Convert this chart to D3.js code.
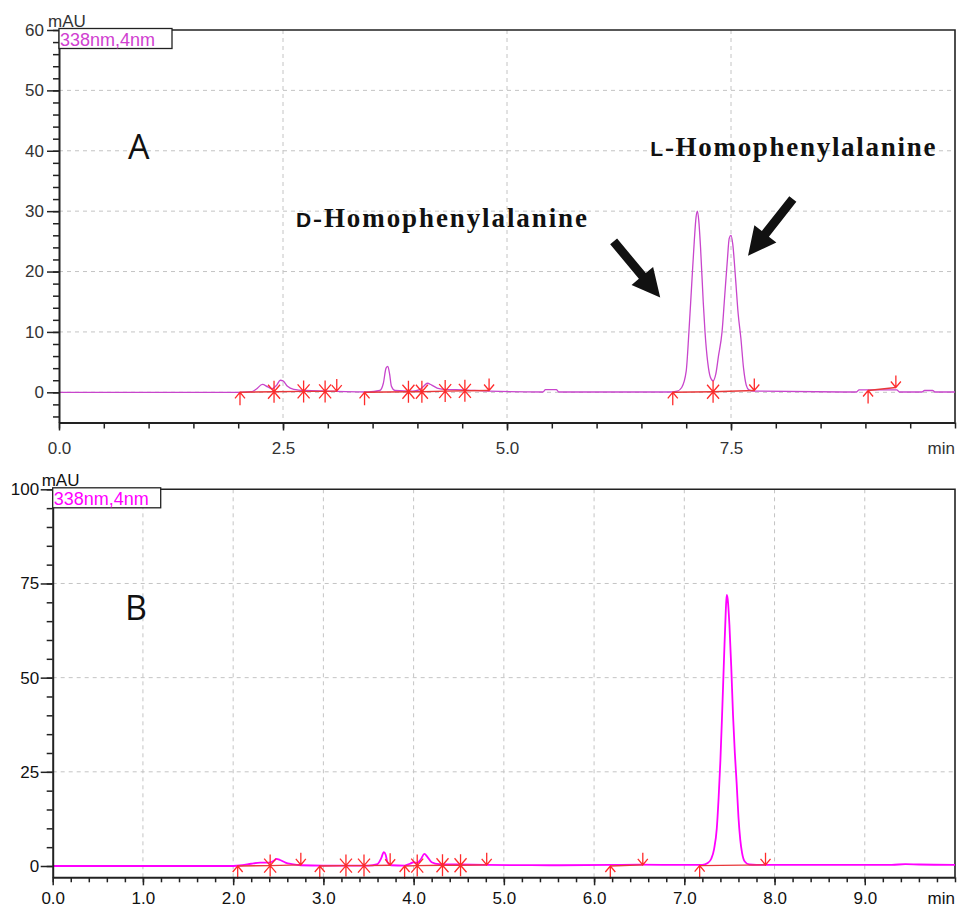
<!DOCTYPE html>
<html>
<head>
<meta charset="utf-8">
<script src="https://cdn.jsdelivr.net/npm/d3@7"></script>
<style>
  body { margin: 0; background: #fff; }
  svg { display: block; }
</style>
</head>
<body>
<div id="chart"></div>
<script>
// --- data (time in min, signal in mAU) ---
const traceA = [
  [0,0],[2.0,0],[2.15,0.1],[2.20,0.5],[2.27,1.3],[2.33,0.9],[2.38,0.6],[2.43,1.2],[2.47,2.0],[2.50,1.9],
  [2.55,1.0],[2.62,0.5],[2.75,0.3],[3.0,0.2],[3.2,0.1],[3.45,0.05],[3.58,0.3],[3.62,1.5],[3.65,4.0],[3.67,4.3],
  [3.69,3.0],[3.71,1.0],[3.75,0.3],[3.95,0.2],[4.02,0.4],[4.07,1.0],[4.11,1.5],[4.16,1.2],[4.22,0.7],[4.30,0.5],
  [4.50,0.4],[4.80,0.2],[5.40,0.05],[5.43,0.45],[5.55,0.45],[5.58,0.05],[6.80,0.05],[6.90,0.2],[6.95,0.8],[7.00,3.5],
  [7.03,9.9],[7.06,17.5],[7.09,25],[7.11,29],[7.125,30],[7.14,28.5],[7.16,24],[7.19,15],[7.21,10],[7.24,5],
  [7.27,2.5],[7.30,1.9],[7.33,3],[7.36,6],[7.40,10],[7.43,16],[7.46,22],[7.48,25.5],[7.50,26],[7.52,24.5],
  [7.55,19],[7.58,13],[7.61,9],[7.64,4],[7.67,1.2],[7.70,0.4],[7.75,0.2],[8.90,0.05],[8.93,0.4],[9.35,0.4],
  [9.38,0.05],[9.63,0.05],[9.66,0.3],[9.75,0.3],[9.78,0.05],[10,0.05]
];
const traceB = [
  [0,0],[2.0,0],[2.10,0.2],[2.20,0.6],[2.30,0.9],[2.40,0.9],[2.45,1.4],[2.48,1.9],[2.52,1.6],[2.58,0.9],
  [2.65,0.5],[2.75,0.2],[3.0,0.1],[3.5,0.1],[3.60,0.5],[3.64,2.0],[3.67,3.7],[3.69,3.0],[3.71,1.0],[3.75,0.2],
  [3.90,0.1],[3.96,0.6],[4.00,1.0],[4.04,0.8],[4.08,1.8],[4.12,3.2],[4.15,2.5],[4.20,1.0],[4.28,0.5],[4.50,0.4],
  [4.80,0.3],[5.5,0.2],[6.2,0.3],[6.5,0.35],[7.0,0.3],[7.20,0.3],[7.26,0.8],[7.30,2.0],[7.33,4.5],[7.36,10],
  [7.38,18],[7.40,28],[7.42,41],[7.44,55],[7.46,68],[7.47,72],[7.48,71],[7.50,64],[7.52,53],[7.54,40],
  [7.56,30],[7.58,22],[7.60,13],[7.62,7],[7.64,3.5],[7.67,1.2],[7.72,0.4],[7.80,0.3],[9.0,0.3],[9.3,0.3],
  [9.45,0.5],[9.6,0.4],[10,0.3]
];

// integration marks: peak start (up arrow), peak end (down arrow), split (asterisk)
const peakStartA = [[2.02,0],[3.41,0],[6.85,0],[9.03,0.3]];
const peakEndA   = [[3.10,0.2],[4.80,0.3],[7.76,0.3],[9.34,0.8]];
const peakSplitA = [[2.40,0.1],[2.73,0.15],[2.97,0.15],[3.90,0.1],[4.05,0.1],[4.31,0.2],[4.53,0.25],[7.30,0.1]];

const peakStartB = [[2.05,0],[2.96,0],[3.90,0],[6.18,0],[7.17,0.1]];
const peakEndB   = [[2.75,0.3],[3.74,0.2],[4.81,0.3],[6.54,0.3],[7.90,0.3]];
const peakSplitB = [[2.41,0.1],[3.25,0.1],[3.45,0.1],[4.04,0.1],[4.32,0.2],[4.52,0.2]];

// tick labels
const xLabelsA = [0, 2.5, 5, 7.5];
const yLabelsA = [0, 10, 20, 30, 40, 50, 60];
const xLabelsB = [0, 1, 2, 3, 4, 5, 6, 7, 8, 9];
const yLabelsB = [0, 25, 50, 75, 100];

const W = 960, H = 908;
const svg = d3.select("#chart").append("svg").attr("width", W).attr("height", H);

class Chromatogram {
  constructor(config) {
    this.config = config;
    this.init();
  }

  init() {
    const c = this.config;
    this.g = svg.append("g");
    this.x = d3.scaleLinear().domain([0, 10]).range([c.left, c.right]);
    this.y = d3.scaleLinear().domain(c.yDomain).range([c.bottom, c.top]);
  }

  render() {
    const c = this.config, g = this.g, x = this.x, y = this.y;
    const font = "'Liberation Sans', Arial, sans-serif";

    // grid
    g.append("g").selectAll("line").data(c.xGrid).join("line")
      .attr("x1", d => x(d)).attr("x2", d => x(d))
      .attr("y1", c.top).attr("y2", c.bottom)
      .attr("stroke", "#c4c4c4").attr("stroke-width", 1).attr("stroke-dasharray", "4,4");
    g.append("g").selectAll("line").data(c.yGrid).join("line")
      .attr("x1", c.left).attr("x2", c.right)
      .attr("y1", d => y(d)).attr("y2", d => y(d))
      .attr("stroke", "#c4c4c4").attr("stroke-width", 1).attr("stroke-dasharray", "4,4");

    // frame top / right
    g.append("path")
      .attr("d", `M${c.left},${c.top}H${c.right}V${c.bottom}`)
      .attr("fill", "none").attr("stroke", "#222").attr("stroke-width", 1.6);

    // trace
    const line = d3.line().x(d => x(d[0])).y(d => y(d[1])).curve(d3.curveMonotoneX);
    g.append("path").datum(c.trace)
      .attr("d", line)
      .attr("fill", "none").attr("stroke", c.traceColor).attr("stroke-width", c.traceWidth);

    // integration baselines (start -> splits -> end)
    const segs = c.starts.map(s => {
      const e = c.ends.find(d => d[0] > s[0]);
      const mids = c.splits.filter(d => d[0] > s[0] && d[0] < e[0]);
      return [s, ...mids, e];
    });
    g.append("g").selectAll("path").data(segs).join("path")
      .attr("d", d3.line().x(d => x(d[0])).y(d => y(d[1])))
      .attr("fill", "none").attr("stroke", "#e8383a").attr("stroke-width", 1.4);

    const red = "#ff2a2a";
    g.append("g").selectAll("path").data(c.starts).join("path")
      .attr("d", d => { const px = x(d[0]), py = y(d[1]);
        return `M${px},${py}V${py + 13}M${px - 5},${py + 6}L${px},${py}L${px + 5},${py + 6}`; })
      .attr("fill", "none").attr("stroke", red).attr("stroke-width", 1.3);
    g.append("g").selectAll("path").data(c.ends).join("path")
      .attr("d", d => { const px = x(d[0]), py = y(d[1]);
        return `M${px},${py}V${py - 12}M${px - 5},${py - 6}L${px},${py}L${px + 5},${py - 6}`; })
      .attr("fill", "none").attr("stroke", red).attr("stroke-width", 1.3);
    g.append("g").selectAll("path").data(c.splits).join("path")
      .attr("d", d => { const px = x(d[0]), py = y(d[1]);
        return `M${px},${py - 11}V${py + 11}M${px - 6},${py - 7}L${px + 6},${py + 7}M${px + 6},${py - 7}L${px - 6},${py + 7}`; })
      .attr("fill", "none").attr("stroke", red).attr("stroke-width", 1.3);

    // axes
    const axisStyle = sel => {
      sel.selectAll("line").attr("stroke", "#222").attr("stroke-width", 1.5);
      sel.select(".domain").attr("stroke", "#222").attr("stroke-width", 2);
      sel.selectAll("text").attr("font-family", font).attr("font-size", c.fontSize).attr("fill", c.textColor);
    };
    g.append("g").attr("transform", `translate(0,${c.bottom})`)
      .call(d3.axisBottom(x).tickValues(c.xMinor).tickSize(c.xMinorLen).tickSizeOuter(0).tickFormat(""))
      .call(axisStyle);
    g.append("g").attr("transform", `translate(0,${c.bottom})`)
      .call(d3.axisBottom(x).tickValues(c.xLabels).tickSize(c.xMajorLen).tickPadding(c.xPad).tickFormat(d3.format(".1f")))
      .call(axisStyle).call(s => s.select(".domain").remove());
    g.append("g").attr("transform", `translate(${c.left},0)`)
      .call(d3.axisLeft(y).tickValues(c.yMinor).tickSize(6).tickSizeOuter(0).tickFormat(""))
      .call(axisStyle);
    g.append("g").attr("transform", `translate(${c.left},0)`)
      .call(d3.axisLeft(y).tickValues(c.yLabels).tickSize(12).tickPadding(c.yPad).tickFormat(d3.format("d")))
      .call(axisStyle).call(s => s.select(".domain").remove());

    g.append("text").attr("x", c.right).attr("y", c.bottom + c.xPad + c.xMajorLen + 12)
      .attr("text-anchor", "end").attr("font-family", font).attr("font-size", c.fontSize)
      .attr("fill", c.textColor).text("min");
    g.append("text").attr("x", c.left - 11).attr("y", c.top - 3)
      .attr("font-family", font).attr("font-size", c.fontSize).attr("fill", c.textColor).text("mAU");

    // wavelength box
    g.append("rect").attr("x", c.left).attr("y", c.top - 1.5)
      .attr("width", c.legendW).attr("height", 20)
      .attr("fill", "#fff").attr("stroke", "#222").attr("stroke-width", 1.3);
    g.append("text").attr("x", c.left + 1).attr("y", c.top + 16)
      .attr("font-family", font).attr("font-size", 18).attr("fill", c.legendColor).text("338nm,4nm");

    // panel letter
    g.append("text").attr("x", x(c.letterAt[0])).attr("y", y(c.letterAt[1]))
      .attr("font-family", "'Open Sans', 'Liberation Sans', sans-serif").attr("font-size", 34)
      .attr("fill", "#111").text(c.letter);
  }

  annotate(names, arrows) {
    const x = this.x, y = this.y, g = this.g;
    names.forEach(n => {
      const t = g.append("text").attr("x", x(n.at[0])).attr("y", y(n.at[1]))
        .attr("font-weight", "bold").attr("fill", "#111")
        .attr("textLength", n.width).attr("lengthAdjust", "spacing");
      t.append("tspan").attr("font-family", "'Liberation Sans', Arial, sans-serif")
        .attr("font-size", 21).text(n.prefix);
      t.append("tspan").attr("font-family", "'Liberation Serif', 'Times New Roman', serif")
        .attr("font-size", 27).text(n.rest);
    });
    arrows.forEach(a => {
      const x0 = x(a.from[0]), y0 = y(a.from[1]), x1 = x(a.to[0]), y1 = y(a.to[1]);
      const len = Math.hypot(x1 - x0, y1 - y0), ux = (x1 - x0) / len, uy = (y1 - y0) / len;
      const px = -uy, py = ux, sw = 4.5, hl = 28, hw = 14;
      const bx = x1 - ux * hl, by = y1 - uy * hl;
      const pts = [
        [x0 + px * sw, y0 + py * sw], [bx + px * sw, by + py * sw], [bx + px * hw, by + py * hw],
        [x1, y1],
        [bx - px * hw, by - py * hw], [bx - px * sw, by - py * sw], [x0 - px * sw, y0 - py * sw]
      ];
      g.append("polygon").attr("points", pts.map(p => p.join(",")).join(" ")).attr("fill", "#111");
    });
  }
}

const chartA = new Chromatogram({
  left: 59, right: 955, top: 30, bottom: 422.5, yDomain: [-5, 60],
  trace: traceA, traceColor: "#c845cc", traceWidth: 1.3,
  starts: peakStartA, ends: peakEndA, splits: peakSplitA,
  xLabels: xLabelsA, xMinor: d3.range(0, 10.01, 0.5), xMinorLen: 6, xMajorLen: 8, xPad: 11,
  yLabels: yLabelsA, yMinor: d3.range(-4, 60.1, 2), yPad: 3,
  xGrid: [2.5, 5, 7.5], yGrid: [0, 10, 20, 30, 40, 50],
  fontSize: 17, textColor: "#333", legendW: 113, legendColor: "#d040d0",
  letter: "A", letterAt: [0.77, 38.6]
});
chartA.render();
chartA.annotate(
  [{ prefix: "D", rest: "-Homophenylalanine", at: [2.645, 27.3], width: 291 },
   { prefix: "L", rest: "-Homophenylalanine", at: [6.60, 39.2], width: 285 }],
  [{ from: [6.19, 25.0], to: [6.71, 15.7] },
   { from: [8.19, 32.0], to: [7.69, 22.6] }]
);

const chartB = new Chromatogram({
  left: 52.7, right: 955, top: 489.3, bottom: 877.3, yDomain: [-3, 100],
  trace: traceB, traceColor: "#ff00ff", traceWidth: 1.8,
  starts: peakStartB, ends: peakEndB, splits: peakSplitB,
  xLabels: xLabelsB, xMinor: d3.range(0, 10.01, 0.2), xMinorLen: 5, xMajorLen: 8, xPad: 7,
  yLabels: yLabelsB, yMinor: d3.range(0, 100.1, 5), yPad: 1.5,
  xGrid: [1, 2, 3, 4, 5, 6, 7, 8, 9], yGrid: [25, 50, 75],
  fontSize: 17, textColor: "#111", legendW: 108, legendColor: "#ff00ff",
  letter: "B", letterAt: [0.80, 65.3]
});
chartB.render();
</script>
</body>
</html>
